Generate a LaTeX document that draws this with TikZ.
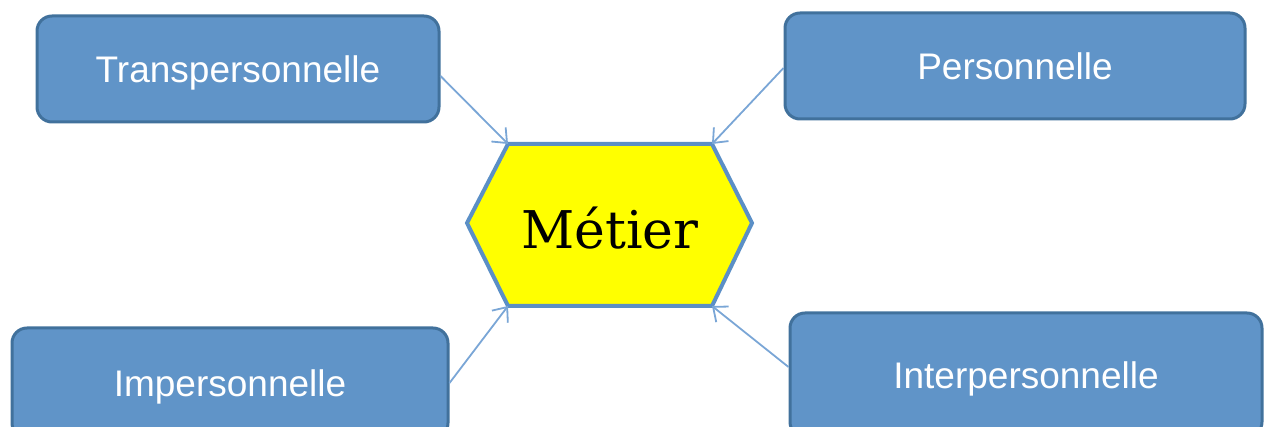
\documentclass[tikz,border=0pt]{standalone}
\usepackage{fontspec}
\setmainfont{Liberation Sans}
\newfontfamily\metierfont{DejaVu Serif}
\usepackage{xcolor}
\usepackage{tikz}
\usetikzlibrary{arrows.meta}
\definecolor{boxfill}{HTML}{6094C8}
\definecolor{boxline}{HTML}{41719C}
\definecolor{hexline}{HTML}{5B8FC6}
\definecolor{hexfill}{HTML}{FFFF00}
\definecolor{arrowline}{HTML}{7AA6D6}

\begin{document}
\begin{tikzpicture}[x=0.5pt,y=-0.5pt]
  \tikzstyle{facet} = [draw=boxline,fill=boxfill,line width=1.5pt,rounded corners=7.5pt,text=white,font=\fontsize{18.5}{20}\selectfont,inner sep=0pt,text height=13.2pt,text depth=0pt]
  \tikzstyle{link} = [draw=arrowline,line width=0.9pt,-{Straight Barb[length=6pt,width=10pt]}]
  \tikzstyle{core} = [draw=hexline,fill=hexfill,line width=2pt,line join=miter]
  %
  \clip (0,0) rectangle (1264,427);
  % Facets.
  \node[facet,minimum width=201pt,minimum height=53pt] (trans) at (238,69) {Transpersonnelle};
  \node[facet,minimum width=230pt,minimum height=53pt] (pers) at (1015,66) {Personnelle};
  \node[facet,minimum width=218pt,minimum height=55pt] (imp) at (230,383) {Impersonnelle};
  \node[facet,minimum width=236pt,minimum height=62pt] (inter) at (1026,375) {Interpersonnelle};
  % Centre hexagon.
  \coordinate (tl) at (508,144);
  \coordinate (tr) at (712,144);
  \coordinate (rt) at (752,223);
  \coordinate (br) at (712,306);
  \coordinate (bl) at (508,306);
  \coordinate (lf) at (467,223);
  \draw[core] (tl) -- (tr) -- (rt) -- (br) -- (bl) -- (lf) -- cycle;
  \node[font=\fontsize{26}{28}\metierfont] (metier) at (610,228) {Métier};
  % Arrows.
  \draw[link] (trans.east) ++(0,7) -- (tl);
  \draw[link] (pers.west) ++(0,2) -- (tr);
  \draw[link] (imp.east) -- (bl);
  \draw[link] (inter.west) ++(0,-8) -- (br);
\end{tikzpicture}
\end{document}
